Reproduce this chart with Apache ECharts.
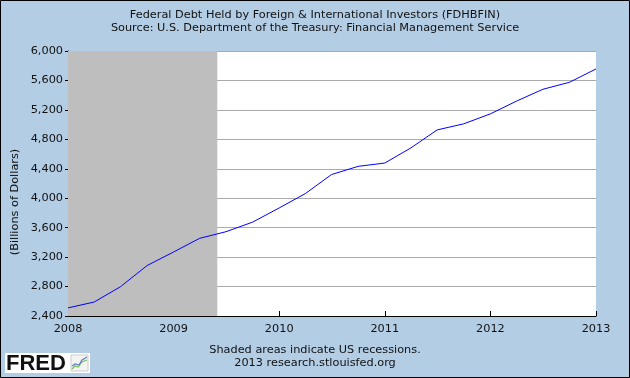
<!DOCTYPE html>
<html>
<head>
<meta charset="utf-8">
<script src="https://cdn.jsdelivr.net/npm/echarts@6/dist/echarts.min.js"></script>
<style>
html,body{margin:0;padding:0;background:#B3CDE5;}
#c{width:630px;height:378px;}
</style>
</head>
<body>
<div id="c"></div>
<script>
// Quarterly observations
var dates = ['2008-01-01','2008-04-01','2008-07-01','2008-10-01',
             '2009-01-01','2009-04-01','2009-07-01','2009-10-01',
             '2010-01-01','2010-04-01','2010-07-01','2010-10-01',
             '2011-01-01','2011-04-01','2011-07-01','2011-10-01',
             '2012-01-01','2012-04-01','2012-07-01','2012-10-01',
             '2013-01-01'];
var values = [2510, 2590, 2798, 3085, 3270, 3455, 3545, 3675,
              3868, 4062, 4322, 4433, 4478, 4683, 4928, 5011,
              5146, 5320, 5480, 5575, 5756];
var yTicks = [2400, 2800, 3200, 3600, 4000, 4400, 4800, 5200, 5600, 6000];
var xTicks = [2008, 2009, 2010, 2011, 2012, 2013];
var recessionStart = '2008-01-01';
var recessionEnd = '2009-06-01';

function toYear(s){
  var p = s.split('-');
  var y = +p[0], m = +p[1], d = +p[2];
  var start = Date.UTC(y,0,1), end = Date.UTC(y+1,0,1);
  return y + (Date.UTC(y,m-1,d) - start) / (end - start);
}
var seriesData = dates.map(function(d,i){ return [toYear(d), values[i]]; });

var font = 'DejaVu Sans';
var chart = echarts.init(document.getElementById('c'));
chart.setOption({
  backgroundColor: '#B3CDE5',
  animation: false,
  title: {
    text: 'Federal Debt Held by Foreign & International Investors (FDHBFIN)\nSource: U.S. Department of the Treasury: Financial Management Service',
    left: 'center', top: 3,
    textStyle: {fontFamily: font, fontSize: 11.3, fontWeight: 'normal', color: '#111', lineHeight: 13.5}
  },
  grid: {left: 68, right: 34, top: 51, bottom: 62, show: true, backgroundColor: '#fff', borderWidth: 0},
  xAxis: {
    type: 'value', min: xTicks[0], max: xTicks[xTicks.length-1], interval: 1,
    axisLine: {show: true, lineStyle: {color: '#000', width: 1}},
    axisTick: {show: true, inside: true, length: 5, lineStyle: {color: '#000'}},
    axisLabel: {fontFamily: font, fontSize: 11.3, color: '#111', margin: 8, formatter: function(v){return String(v);}},
    splitLine: {show: false}
  },
  yAxis: {
    type: 'value', min: yTicks[0], max: yTicks[yTicks.length-1], interval: 400,
    axisLine: {show: true, lineStyle: {color: '#000', width: 1}},
    axisTick: {show: true, length: 3, lineStyle: {color: '#000'}},
    axisLabel: {fontFamily: font, fontSize: 11.3, color: '#111', margin: 5,
      formatter: function(v){ return v.toLocaleString('en-US'); }},
    splitLine: {show: true, lineStyle: {color: '#AAAAAA', width: 1}}
  },
  series: [{
    type: 'line', data: seriesData, showSymbol: false,
    lineStyle: {color: '#0000FF', width: 1}, z: 3,
    markArea: {
      silent: true,
      itemStyle: {color: '#BEBEBE'},
      data: [[{xAxis: toYear(recessionStart)}, {xAxis: toYear(recessionEnd)}]]
    }
  }],
  graphic: [
    {type: 'text', x: 15, y: 202, rotation: Math.PI/2,
      style: {text: '(Billions of Dollars)', fontFamily: font, fontSize: 11.3, fill: '#111', align: 'center', verticalAlign: 'middle'}},
    {type: 'text', left: 'center', top: 345, style: {text: 'Shaded areas indicate US recessions.', fontFamily: font, fontSize: 11.3, fill: '#111'}},
    {type: 'text', left: 'center', top: 358, style: {text: '2013 research.stlouisfed.org', fontFamily: font, fontSize: 11.3, fill: '#111'}},
    {type: 'rect', shape: {x: 5, y: 353, width: 85, height: 20}, style: {fill: '#fff'}},
    {type: 'text', x: 6, y: 353, style: {text: 'FRED', fontFamily: 'Liberation Sans', fontWeight: 'bold', fontSize: 22, fill: '#111'}},
    {type: 'rect', shape: {x: 71, y: 355, width: 17, height: 16}, style: {fill: '#f4f4f4', stroke: '#cccccc', lineWidth: 1}},
    {type: 'polyline', shape: {points: [[72,369],[75,366],[78,367],[82,362],[87,360]]}, style: {stroke: '#7DBB5A', lineWidth: 1.2, fill: null}},
    {type: 'polyline', shape: {points: [[72,366],[75,364],[79,365],[82,360],[87,357]]}, style: {stroke: '#5B7FC0', lineWidth: 1.2, fill: null}},
    {type: 'rect', shape: {x: 0.5, y: 0.5, width: 629, height: 377}, style: {fill: null, stroke: '#000', lineWidth: 1}}
  ]
});
</script>
</body>
</html>
